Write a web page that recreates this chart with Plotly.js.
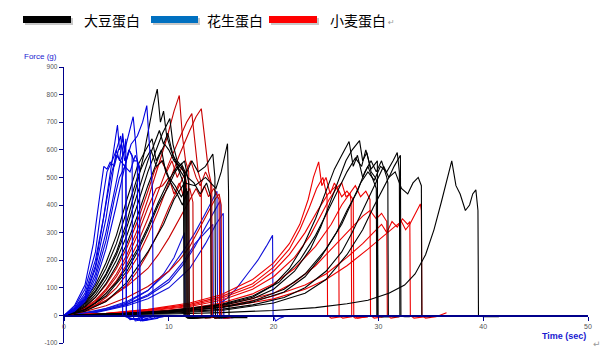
<!DOCTYPE html>
<html><head><meta charset="utf-8">
<script src="https://cdn.plot.ly/plotly-3.0.1.min.js"></script>
<style>html,body{margin:0;padding:0;background:#fff}#chart{width:612px;height:362px}</style>
</head><body><div id="chart"></div>
<script>
// ---- data: each curve is a list of [time (sec), force (g)] points ----
const seriesNames = ['大豆蛋白', '花生蛋白', '小麦蛋白'];
const xTicks = [0, 10, 20, 30, 40, 50];
const yTicks = [-100, 0, 100, 200, 300, 400, 500, 600, 700, 800, 900];

// 花生蛋白 (peanut), fast group
const peanutFast = [
 [[0,0],[1,35],[2,110],[2.8,260],[3.4,430],[3.8,540],[4.1,530],[4.4,555],[4.8,540],[5.2,600],[5.5,620],[5.8,560],[5.9,575],[5.95,0],[6.3,-15],[7,-10],[8,-5]],
 [[0,0],[1,25],[2,80],[3,200],[3.8,360],[4.4,520],[4.8,620],[5.1,690],[5.3,600],[5.6,640],[5.9,560],[6.2,600],[6.5,580],[6.55,0],[6.8,-20],[7.5,-15],[8.5,-5]],
 [[0,0],[1,20],[2,65],[3,170],[4,350],[4.6,500],[5.0,600],[5.3,560],[5.6,660],[5.8,590],[5.9,640],[5.95,0],[6.3,-10],[7,-15],[7.5,-5]],
 [[0,0],[1,20],[2,60],[3,150],[4,300],[4.8,450],[5.4,560],[5.8,600],[6.1,650],[6.4,690],[6.6,720],[6.8,640],[7.0,560],[7.2,520],[7.25,0],[7.5,-20],[8.5,-15],[9,-10]],
 [[0,0],[1,15],[2,50],[3,120],[4,240],[5,400],[5.8,540],[6.4,620],[7,650],[7.5,700],[7.9,760],[8.1,650],[8.3,560],[8.45,450],[8.5,0],[8.7,-10],[9.5,-5]],
 [[0,0],[1,30],[2,95],[3,230],[3.6,400],[4.1,520],[4.6,560],[5.0,600],[5.4,650],[5.6,580],[5.55,520],[5.6,0],[6.2,-10],[7.4,-18],[8,-10]],
 [[0,0],[1,25],[2,70],[3,180],[3.9,380],[4.5,510],[5,580],[5.4,560],[5.8,540],[6.2,600],[6.7,560],[7.0,560],[7.05,0],[7.3,-20],[8,-15]],
 [[0,0],[1,18],[2,55],[3,135],[4,270],[4.8,420],[5.3,500],[5.8,540],[6.3,520],[6.8,580],[7.2,540],[7.25,0],[7.6,-18],[8.6,-10]]
];
// 花生蛋白, slow group
const peanutSlow = [
 [[0,0],[2,10],[4,25],[6,50],[8,90],[10,160],[11.5,240],[12.5,300],[13.5,370],[14.2,420],[14.6,450],[14.65,0],[15,-10],[16,-5]],
 [[0,0],[2,8],[4,20],[6,40],[8,70],[10,120],[11.5,190],[12.5,250],[13.5,320],[14.5,390],[14.9,415],[14.95,0],[15.3,-10],[16.5,-5]],
 [[0,0],[3,10],[6,35],[8,60],[10,100],[12,170],[13.5,260],[14.5,330],[15.2,370],[15.25,0],[15.6,-10],[17,-5]],
 [[0,0],[3,15],[6,45],[8,90],[9.5,150],[10.5,210],[11.5,300],[11.55,0],[12,-10],[13,-5]],
 [[0,0],[3,12],[6,40],[8,75],[10,130],[11.5,200],[12.5,260],[13.5,300],[14.2,330],[14.25,0],[14.6,-8],[15.5,-5]],
 [[0,0],[4,5],[8,10],[11,15],[13,22],[14.5,35],[15.5,60],[16.5,100],[17.5,150],[18.5,200],[19.3,250],[19.9,290],[19.95,0],[20.2,-20],[20.6,-10],[21,-5]]
];
// 大豆蛋白 (soy), early group
const soyEarly = [
 [[0,0],[1,15],[2,45],[3,90],[4,150],[5,230],[6,340],[7,480],[7.6,580],[8.1,680],[8.5,760],[8.9,820],[9.2,700],[9.5,740],[9.8,650],[10.2,600],[10.6,560],[11,520],[11.4,480],[11.45,0],[11.8,-10],[13,-5],[15,-5]],
 [[0,0],[1,12],[2,35],[3,75],[4,130],[5,200],[6,290],[7,400],[8,520],[8.8,600],[9.4,660],[9.8,690],[10.1,713],[10.4,620],[10.8,560],[11.2,540],[11.6,500],[11.65,0],[12,-10],[14,-8]],
 [[0,0],[1,18],[2,55],[3,110],[4,190],[5,290],[6,420],[7,540],[7.8,600],[8.4,640],[8.8,560],[9.3,600],[9.7,520],[10.2,480],[10.8,440],[11.3,400],[11.8,450],[11.85,0],[12.2,-10],[14,-5]],
 [[0,0],[1,10],[2,30],[3,65],[4,115],[5,180],[6,260],[7,360],[8,470],[9,570],[9.6,620],[10,600],[10.5,560],[11,540],[11.5,560],[11.9,480],[11.95,0],[12.3,-10],[13.5,-5]],
 [[0,0],[1,8],[2,22],[3,45],[4,80],[5,120],[6,175],[7,240],[8,320],[9,410],[10,490],[10.8,540],[11.5,500],[12.2,560],[12.8,520],[13.5,540],[14.2,585],[14.4,500],[14.45,0],[14.8,-10],[16,-5]],
 [[0,0],[2,15],[4,50],[6,120],[8,230],[9.5,330],[10.5,420],[11.5,480],[12.5,470],[13.5,500],[14.5,460],[15,520],[15.6,622],[15.7,450],[15.75,0],[16,-8],[17.5,-8]],
 [[0,0],[1,14],[2,40],[3,85],[4,145],[5,220],[6,320],[7,440],[8,560],[8.6,620],[9.1,670],[9.5,620],[9.9,660],[10.4,580],[11,540],[11.5,520],[11.55,0],[11.9,-10],[13,-5]],
 [[0,0],[2,20],[4,70],[6,160],[7,230],[8,310],[9,400],[10,470],[10.6,520],[11.2,550],[11.8,500],[12.4,480],[13,440],[13.6,480],[14,430],[14.05,0],[14.4,-10],[15.5,-5]],
 [[0,0],[1,16],[2,48],[3,100],[4,170],[5,260],[6,380],[7,500],[7.7,560],[8.3,600],[8.8,540],[9.4,560],[10,500],[10.6,470],[11.2,430],[11.7,460],[11.75,0],[12.1,-10],[13.5,-5]]
];
// 大豆蛋白, late group
const soyLate = [
 [[0,0],[5,5],[10,15],[15,35],[18,60],[20,95],[22,160],[23.5,240],[24.5,320],[25.5,420],[26.3,500],[26.9,560],[27.5,600],[28.2,633],[28.5,560],[28.9,590],[29.3,520],[29.7,500],[29.9,480],[29.95,0],[30.3,-5],[31,-5]],
 [[0,0],[5,6],[10,18],[15,40],[18,70],[20,110],[21.5,170],[22.8,250],[24,350],[25,450],[25.8,530],[26.5,580],[27.2,630],[27.6,540],[28,580],[28.5,500],[29,540],[29.5,490],[29.8,460],[29.85,0],[30.2,-5],[31,-5]],
 [[0,0],[5,4],[10,10],[15,22],[18,38],[21,65],[23,100],[25,160],[26.5,230],[27.5,300],[28.5,380],[29.3,450],[30,500],[30.5,540],[31,500],[31.5,540],[32.1,580],[32.15,0],[32.5,-5],[33,-5]],
 [[0,0],[5,3],[10,8],[15,18],[20,45],[23,80],[25,130],[27,220],[28.5,310],[29.5,390],[30.3,450],[31,500],[31.6,520],[32.2,460],[32.8,440],[33.3,480],[33.8,500],[34.1,470],[34.15,0],[34.5,-5],[35,-5]],
 [[0,0],[5,2],[10,5],[15,10],[20,18],[24,28],[27,42],[29,55],[31,80],[32.5,110],[33.5,150],[34.5,220],[35.3,310],[36,410],[36.5,490],[37,560],[37.4,470],[37.8,440],[38.3,380],[38.7,400],[39,440],[39.3,455],[39.5,380],[39.55,0],[40,-5],[41.5,-5]],
 [[0,0],[5,5],[10,12],[15,28],[18,48],[21,85],[23,140],[24.5,210],[26,300],[27,380],[28,450],[28.7,520],[29.3,560],[29.8,520],[30.3,560],[30.8,500],[30.9,480],[30.95,0],[31.3,-5],[32,-5]],
 [[0,0],[5,6],[10,16],[15,38],[18,66],[20.5,120],[22.5,200],[24,290],[25.2,380],[26.2,460],[27,520],[27.8,570],[28.4,540],[28.8,600],[29.3,530],[29.9,560],[29.95,0],[30.3,-5]],
 [[0,0],[5,5],[10,13],[15,30],[18,52],[21,95],[23,150],[25,240],[26.5,330],[27.5,410],[28.3,480],[29,520],[29.6,490],[30.2,540],[30.8,520],[31.4,560],[31.8,590],[32,520],[32.05,0],[32.4,-5]]
];
// 小麦蛋白 (wheat), early group
const wheatEarly = [
 [[0,0],[1,10],[2,28],[3,55],[4,95],[5,150],[6,220],[7,310],[8,420],[9,540],[9.8,640],[10.5,740],[11,797],[11.3,650],[11.6,560],[11.9,520],[11.95,0],[12.3,-10],[13.5,-5]],
 [[0,0],[1,8],[2,22],[3,45],[4,80],[5,125],[6,185],[7,260],[8,350],[9,450],[10,550],[11,640],[11.7,700],[12.2,731],[12.5,620],[12.8,520],[13.1,480],[13.15,0],[13.5,-10],[15,-5]],
 [[0,0],[1,7],[2,18],[3,38],[4,65],[5,100],[6,150],[7,210],[8,290],[9,380],[10,480],[11,580],[12,670],[12.6,720],[13.1,749],[13.4,640],[13.8,520],[14.1,470],[14.15,0],[14.5,-10],[15.5,-5]],
 [[0,0],[1,9],[2,25],[3,50],[4,90],[5,140],[6,205],[7,290],[8,390],[8.8,460],[9.4,470],[10,500],[10.5,440],[11,480],[11.5,420],[12,460],[12.3,410],[12.35,0],[12.7,-10],[14,-5]],
 [[0,0],[2,20],[4,55],[6,105],[8,170],[9,220],[10,280],[11,350],[12,420],[12.6,460],[13,430],[13.4,470],[13.8,430],[14.3,460],[14.8,420],[14.85,0],[15.2,-10],[16.5,-5]],
 [[0,0],[2,14],[4,35],[6,65],[8,105],[10,160],[11,200],[12,250],[13,320],[13.8,380],[14.4,420],[14.8,440],[15,400],[15.05,0],[15.4,-10],[17,-5]],
 [[0,0],[1,12],[2,32],[3,65],[4,110],[5,170],[6,245],[7,340],[8,450],[8.7,530],[9.3,560],[9.8,520],[10.3,560],[10.8,500],[11.3,540],[11.7,480],[11.75,0],[12.1,-8],[13,-5]],
 [[0,0],[2,18],[4,50],[6,110],[7,160],[8,225],[9,300],[10,390],[11,470],[11.6,520],[12.1,560],[12.6,500],[13,470],[13.5,520],[14,480],[14.05,0],[14.4,-10],[15.5,-5]]
];
// 小麦蛋白, late group
const wheatLate = [
 [[0,0],[4,8],[8,22],[12,45],[15,75],[18,130],[20,190],[21.5,260],[22.5,330],[23.3,420],[23.8,500],[24.3,556],[24.6,470],[25,500],[25.4,440],[25.8,480],[26.2,450],[26.25,0],[26.6,-10],[27.5,-5]],
 [[0,0],[4,7],[8,20],[12,40],[15,68],[18,115],[20,175],[21.5,240],[22.5,310],[23.4,390],[24.1,460],[24.7,500],[25.1,430],[25.15,0],[25.5,-10],[26.5,-5]],
 [[0,0],[4,6],[8,16],[12,32],[15,55],[18,95],[20,140],[22,210],[23.5,290],[24.5,360],[25.3,420],[26,460],[26.5,480],[26.9,430],[27.3,440],[27.4,410],[27.45,0],[27.8,-10],[29,-5]],
 [[0,0],[4,5],[8,13],[12,26],[15,45],[18,78],[20,115],[22,170],[24,250],[25.5,330],[26.5,400],[27.2,440],[27.8,470],[28.3,430],[28.8,450],[29.2,420],[29.25,0],[29.6,-10],[30.5,-5]],
 [[0,0],[4,4],[8,10],[12,20],[16,38],[20,70],[23,110],[25,150],[27,210],[28.5,260],[29.5,300],[30.3,330],[30.8,300],[31.3,340],[31.8,320],[32.3,350],[32.8,330],[33,340],[33.05,0],[33.4,-10],[34.5,-5]],
 [[0,0],[4,4],[8,9],[12,18],[16,34],[20,60],[23,95],[25,130],[27,180],[29,240],[30.5,290],[31.5,320],[32.2,340],[32.6,310],[33,330],[33.5,370],[34,404],[34.1,380],[34.15,0],[34.5,-10],[35.5,-5],[36.5,10]],
 [[0,0],[4,5],[8,12],[12,24],[16,44],[20,80],[22,120],[24,180],[26,260],[27.5,320],[28.5,360],[29.2,380],[29.8,350],[30.3,370],[30.8,340],[30.85,0],[31.2,-10],[32,-5]],
 [[0,0],[4,7],[8,18],[12,36],[15,62],[18,105],[20,160],[21.5,220],[23,300],[24.2,380],[25.2,440],[26,470],[26.5,430],[27,450],[27.6,420],[27.65,0],[28,-10],[29,-5]]
];

// ---- styling ----
const W = 612, H = 362, L = 64, R = 24, T = 67, B = 19;
const PW = W - L - R, PH = H - T - B;
const px2x = p => (p - L) / PW;
const px2y = p => (H - B - p) / PH;

const traces = [];
function addGroup(curves, color) {
  curves.forEach(c => traces.push({
    type: 'scatter', mode: 'lines',
    x: c.map(p => p[0]), y: c.map(p => p[1]),
    line: {color: color, width: 1.1},
    showlegend: false, hoverinfo: 'skip'
  }));
}
addGroup(peanutSlow, '#1010d8');
addGroup(wheatLate, '#ee0000');
addGroup(soyLate, '#000000');
addGroup(wheatEarly, '#c80000');
addGroup(soyEarly, '#000000');
addGroup(peanutFast, '#0000e0');

const legendColors = ['#000000', '#0070c0', '#ff0000'];
const barX = [[23, 71], [151, 198], [269, 317]];
const textX = [82, 205, 328];
const shapes = [], annotations = [];
seriesNames.forEach((name, i) => {
  shapes.push({type: 'rect', xref: 'paper', yref: 'paper', x0: px2x(barX[i][0] + 2), x1: px2x(barX[i][1] + 2), y0: px2y(25), y1: px2y(18), fillcolor: '#c8c8c8', line: {width: 0}});
  shapes.push({type: 'rect', xref: 'paper', yref: 'paper', x0: px2x(barX[i][0]), x1: px2x(barX[i][1]), y0: px2y(23), y1: px2y(16), fillcolor: legendColors[i], line: {width: 0}});
  annotations.push({xref: 'paper', yref: 'paper', x: px2x(textX[i]), y: px2y(20), xanchor: 'left', yanchor: 'middle', showarrow: false, text: name, font: {family: 'Noto Sans CJK SC', size: 14, color: '#000'}});
});
annotations.push({xref: 'paper', yref: 'paper', x: px2x(386), y: px2y(23), xanchor: 'left', yanchor: 'middle', showarrow: false, text: '↵', font: {family: 'DejaVu Sans', size: 8, color: '#999'}});
annotations.push({xref: 'paper', yref: 'paper', x: px2x(591), y: px2y(344), xanchor: 'left', yanchor: 'middle', showarrow: false, text: '↵', font: {family: 'DejaVu Sans', size: 9, color: '#999'}});
annotations.push({xref: 'paper', yref: 'paper', x: px2x(22), y: px2y(56), xanchor: 'left', yanchor: 'middle', showarrow: false, text: 'Force (g)', font: {family: 'Liberation Sans', size: 8, color: '#1a1ad0'}});
annotations.push({xref: 'paper', yref: 'paper', x: px2x(588), y: px2y(336), xanchor: 'right', yanchor: 'middle', showarrow: false, text: '<b>Time (sec)</b>', font: {family: 'Liberation Sans', size: 9, color: '#1a1ad0'}});

const axisColor = '#00008b';
const layout = {
  width: W, height: H,
  margin: {l: L, r: R, t: T, b: B, pad: 0},
  paper_bgcolor: '#fff', plot_bgcolor: '#fff',
  showlegend: false,
  xaxis: {range: [0, 50], tickvals: xTicks, ticktext: xTicks.map(String), showgrid: false, zeroline: false,
    showline: true, linecolor: axisColor, linewidth: 1.3, ticks: 'outside', ticklen: 4, tickcolor: axisColor,
    anchor: 'free', position: 0.1, tickfont: {family: 'Liberation Sans', size: 7, color: '#555'}},
  yaxis: {range: [-100, 900], tickvals: yTicks, ticktext: yTicks.map(String), showgrid: false, zeroline: false,
    showline: true, linecolor: axisColor, linewidth: 1.3, ticks: 'outside', ticklen: 4, tickcolor: axisColor,
    tickfont: {family: 'Liberation Sans', size: 6.5, color: '#555'}},
  shapes: shapes, annotations: annotations
};
Plotly.newPlot('chart', traces, layout, {staticPlot: true, displayModeBar: false});
</script></body></html>
